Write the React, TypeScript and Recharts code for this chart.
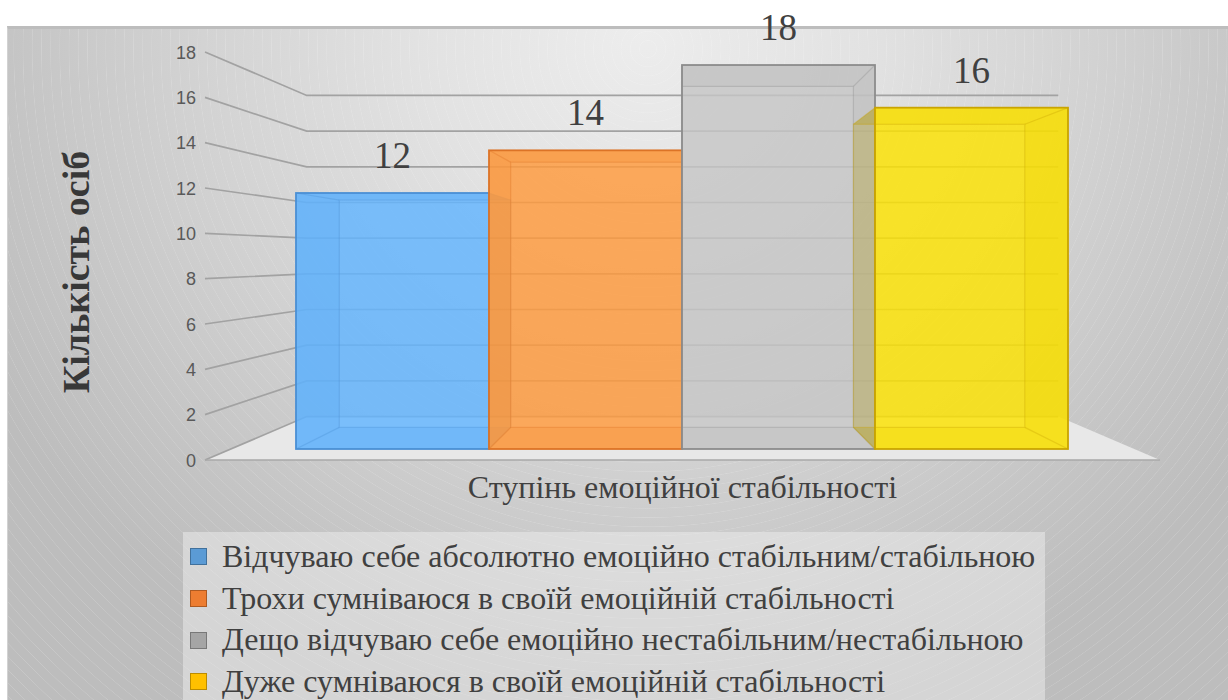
import React from 'react';
import { BarChart, Bar, XAxis, YAxis, CartesianGrid, Legend, LabelList, Label } from 'recharts';

// ---- data ----
const CATEGORIES = ['Ступінь емоційної стабільності'];
const SERIES_NAMES = [
  'Відчуваю себе абсолютно емоційно стабільним/стабільною',
  'Трохи сумніваюся в своїй емоційній стабільності',
  'Дещо відчуваю себе емоційно нестабільним/нестабільною',
  'Дуже сумніваюся в своїй емоційній стабільності',
];
const SERIES_VALUES = [12, 14, 18, 16];
const Y_TICKS = [0, 2, 4, 6, 8, 10, 12, 14, 16, 18];
const Y_TITLE = 'Кількість осіб';
const X_TITLE = 'Ступінь емоційної стабільності';

// ---- styles ----
const LEGEND_COLORS = ['#5b9bd5', '#ed7d31', '#a5a5a5', '#ffc000'];
const LEGEND_BORDERS = ['#41719c', '#ae5a21', '#787878', '#bc8c00'];
const FRONT_COLORS = ['#62b4ff', '#ff9a3c', '#c6c6c6', '#fde300'];
const EDGE_COLORS = ['#4a8fd4', '#dc7326', '#8c8c8c', '#c9a400'];
const SIDE_COLORS = ['#3f7fc0', '#c46a2a', '#8a8a8a', '#b49a10'];

// ---- layout ----
const W = 1228;
const H = 700;
const MARGIN = { top: 52, right: 68, bottom: 180, left: 145 };
const Y_AXIS_W = 60;
const X_AXIS_H = 60;
const PLOT_LEFT = MARGIN.left + Y_AXIS_W;
const PLOT_RIGHT = W - MARGIN.right;
const PLOT_TOP = MARGIN.top;
const PLOT_BOTTOM = H - MARGIN.bottom - X_AXIS_H;
const VP_X = (PLOT_LEFT + PLOT_RIGHT) / 2;
const VP_Y = (PLOT_TOP + PLOT_BOTTOM) / 2;
const WALL_DEPTH = 0.787;
const BAR_DEPTH = 0.888;
const BAR_DOMAIN: [number, number] = [-0.516, 18.61];

const data = CATEGORIES.map((name) => {
  const row: Record<string, any> = { name };
  SERIES_VALUES.forEach((v, i) => {
    row['s' + i] = v;
  });
  return row;
});

const SERIF = '"Liberation Serif", "Times New Roman", serif';
const SANS = '"Liberation Sans", Arial, sans-serif';

const WallLine = (props: any) => {
  const { x1, x2, y1, index } = props;
  const cx = (x1 + x2) / 2;
  const wy = VP_Y + WALL_DEPTH * (y1 - VP_Y);
  const wl = cx + WALL_DEPTH * (x1 - cx);
  const wr = cx + WALL_DEPTH * (x2 - cx);
  const isFloor = Math.abs(y1 - PLOT_BOTTOM) < 0.6;
  return (
    <g key={'wl-' + index}>
      {isFloor && (
        <polygon
          points={`${x1},${y1} ${x2},${y1} ${wr},${wy} ${wl},${wy}`}
          fill="#e8e8e8"
        />
      )}
      <polyline
        points={`${x1},${y1} ${wl},${wy} ${wr},${wy}`}
        fill="none"
        stroke="#a2a2a2"
        strokeWidth={1.7}
      />
      {isFloor && <line x1={x1} y1={y1} x2={x2} y2={y1} stroke="#a8a8a8" strokeWidth={1.7} />}
    </g>
  );
};

const YTick = (props: any) => {
  const { y, payload } = props;
  return (
    <text
      x={PLOT_LEFT - 9}
      y={y}
      dy={6.5}
      textAnchor="end"
      fill="#595959"
      fontSize={18}
      fontFamily={SANS}
    >
      {payload.value}
    </text>
  );
};

const makeBox = (i: number) => (props: any) => {
  const { x, y, width, height } = props;
  if (!height || height <= 0) return <g />;
  const p = (px: number, py: number) => [VP_X + BAR_DEPTH * (px - VP_X), VP_Y + BAR_DEPTH * (py - VP_Y)];
  const x0 = x;
  const x1 = x + width;
  const y0 = y;
  const y1 = y + height;
  const [bx0, by0] = p(x0, y0);
  const [bx1, by1] = p(x1, y1);
  const side = SIDE_COLORS[i];
  const faces = [
    `${x0},${y0} ${bx0},${by0} ${bx0},${by1} ${x0},${y1}`,
    `${x1},${y0} ${bx1},${by0} ${bx1},${by1} ${x1},${y1}`,
    `${x0},${y0} ${x1},${y0} ${bx1},${by0} ${bx0},${by0}`,
    `${x0},${y1} ${x1},${y1} ${bx1},${by1} ${bx0},${by1}`,
  ];
  return (
    <g>
      {faces.map((pts, k) => (
        <polygon key={k} points={pts} fill={side} fillOpacity={0.3} stroke="none" />
      ))}
      <rect x={x0} y={y0} width={width} height={height} fill={FRONT_COLORS[i]} fillOpacity={0.82} />
      <rect
        x={bx0}
        y={by0}
        width={bx1 - bx0}
        height={by1 - by0}
        fill="none"
        stroke={EDGE_COLORS[i]}
        strokeOpacity={0.35}
        strokeWidth={1.2}
      />
      <line x1={x0} y1={y0} x2={bx0} y2={by0} stroke={EDGE_COLORS[i]} strokeOpacity={0.35} strokeWidth={1.2} />
      <line x1={x1} y1={y0} x2={bx1} y2={by0} stroke={EDGE_COLORS[i]} strokeOpacity={0.35} strokeWidth={1.2} />
      <line x1={x0} y1={y1} x2={bx0} y2={by1} stroke={EDGE_COLORS[i]} strokeOpacity={0.35} strokeWidth={1.2} />
      <line x1={x1} y1={y1} x2={bx1} y2={by1} stroke={EDGE_COLORS[i]} strokeOpacity={0.35} strokeWidth={1.2} />
      <rect x={x0} y={y0} width={width} height={height} fill="none" stroke={EDGE_COLORS[i]} strokeWidth={1.8} />
    </g>
  );
};

const renderLegend = (props: any) => {
  const payload = [...(props.payload || [])].sort(
    (a: any, b: any) => SERIES_NAMES.indexOf(a.value) - SERIES_NAMES.indexOf(b.value)
  );
  return (
    <div
      style={{
        background: 'rgba(238,238,238,0.5)',
        width: 862,
        height: 170,
        boxSizing: 'border-box',
        padding: '4px 0 0 7px',
      }}
    >
      {payload.map((e: any) => {
        const idx = SERIES_NAMES.indexOf(e.value);
        return (
          <div
            key={e.value}
            style={{
              display: 'flex',
              alignItems: 'center',
              height: 41.7,
              lineHeight: '41.7px',
              fontFamily: SERIF,
              fontSize: 32,
              color: '#404040',
              whiteSpace: 'nowrap',
            }}
          >
            <span
              style={{
                display: 'inline-block',
                flex: 'none',
                width: 15,
                height: 15,
                background: LEGEND_COLORS[idx],
                border: `1px solid ${LEGEND_BORDERS[idx]}`,
                marginRight: 15,
              }}
            />
            <span>{e.value}</span>
          </div>
        );
      })}
    </div>
  );
};

export default function App() {
  return (
    <div style={{ position: 'absolute', left: 0, top: 0, width: W, height: H, background: '#ffffff', overflow: 'hidden' }}>
      <div
        style={{
          position: 'absolute',
          left: 7,
          top: 26,
          width: W - 7,
          height: H - 26,
          boxSizing: 'border-box',
          borderTop: '3px solid #bdbdbd',
          borderLeft: '1px solid #d2d2d2',
          backgroundImage:
            'repeating-radial-gradient(circle at 640px 20px, rgba(255,255,255,0) 0px, rgba(255,255,255,0) 8px, rgba(255,255,255,0.16) 8.5px, rgba(255,255,255,0) 9.2px),' +
            'radial-gradient(ellipse 62% 105% at 52% 0%, #ededed 0%, #e2e2e2 30%, #d2d2d2 60%, #c4c4c4 85%, #bdbdbd 100%)',
        }}
      />
      <div style={{ position: 'absolute', left: 0, top: 0 }}>
        <BarChart
          width={W}
          height={H}
          data={data}
          margin={MARGIN}
          barCategoryGap={91}
          barGap={0}
        >
          <CartesianGrid vertical={false} horizontal={WallLine as any} />
          <XAxis dataKey="name" tick={false} axisLine={false} tickLine={false} height={X_AXIS_H}>
            <Label
              content={(p: any) => {
                const vb = p.viewBox || {};
                return (
                  <text
                    x={vb.x + vb.width / 2}
                    y={vb.y + 38}
                    textAnchor="middle"
                    fill="#404040"
                    fontSize={32}
                    fontFamily={SERIF}
                  >
                    {X_TITLE}
                  </text>
                );
              }}
            />
          </XAxis>
          <YAxis
            yAxisId={0}
            domain={[0, 18]}
            ticks={Y_TICKS}
            width={Y_AXIS_W}
            axisLine={false}
            tickLine={false}
            tick={<YTick />}
            allowDataOverflow
          >
            <Label
              content={() => (
                <text
                  x={0}
                  y={0}
                  transform={`translate(89, ${VP_Y + 16}) rotate(-90)`}
                  textAnchor="middle"
                  fill="#383838"
                  fontSize={38}
                  fontWeight="bold"
                  fontFamily={SERIF}
                >
                  {Y_TITLE}
                </text>
              )}
            />
          </YAxis>
          <YAxis yAxisId="bar" hide domain={BAR_DOMAIN} allowDataOverflow />
          {SERIES_NAMES.map((n, i) => (
            <Bar
              key={n}
              dataKey={'s' + i}
              name={n}
              yAxisId="bar"
              fill={LEGEND_COLORS[i]}
              shape={makeBox(i)}
              isAnimationActive={false}
            >
              <LabelList
                dataKey={'s' + i}
                position="top"
                offset={25}
                fill="#404040"
                fontSize={37}
                fontFamily={SERIF}
              />
            </Bar>
          ))}
          <Legend
            layout="vertical"
            align="center"
            verticalAlign="middle"
            width={862}
            wrapperStyle={{ left: 183, top: 532, width: 862 }}
            content={renderLegend}
          />
        </BarChart>
      </div>
    </div>
  );
}
